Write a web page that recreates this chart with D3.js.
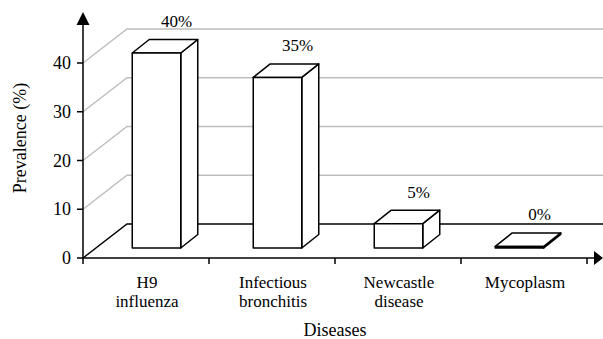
<!DOCTYPE html>
<html>
<head>
<meta charset="utf-8">
<script src="https://cdn.jsdelivr.net/npm/d3@7"></script>
</head>
<body style="margin:0">
<svg id="chart" width="603" height="339" style="display:block;background:#fff"></svg>
<script>
// Prevalence of poultry diseases
const categories = ["H9 influenza", "Infectious bronchitis", "Newcastle disease", "Mycoplasm"];
const categoryLines = [["H9", "influenza"], ["Infectious", "bronchitis"], ["Newcastle", "disease"], ["Mycoplasm"]];
const prevalence = [40, 35, 5, 0];
const yTicks = [0, 10, 20, 30, 40];

const svg = d3.select("#chart");
const W = 603;
const serif = "Liberation Serif";
const label = sel => sel.style("font-family", () => `"${serif}"`);

// front plane of the axes
const axisX0 = 83, axisX1 = 587, axisY0 = 258;
const x = d3.scaleBand().domain(categories).range([axisX0, axisX1]);
const y = d3.scaleLinear().domain([0, 40]).range([axisY0, 63]);

// oblique depth of the wall / floor
const wallDX = 44, wallDY = -34;

// bars sit inside the floor; front-face centres and 3D offsets
const xBar = d3.scalePoint().domain(categories).range([156.5, 519.5]);
const barW = 48.5, barFrontDY = -10, barDX = 17, barDY = -13.5;

// --- back wall gridlines and floor edge
const g = svg.append("g");
yTicks.forEach(t => {
  const y0 = y(t), y1 = y(t) + wallDY;
  g.append("path")
    .attr("d", `M${axisX0},${y0}L${axisX0 + wallDX},${y1}L${W},${y1}`)
    .attr("fill", "none")
    .attr("stroke", t === 0 ? "#000" : "#bdbdbd")
    .attr("stroke-width", 1.4);
});

// --- bars
prevalence.forEach((v, i) => {
  const c = categories[i];
  const xl = xBar(c) - barW / 2, xr = xBar(c) + barW / 2;
  const yb = y(0) + barFrontDY;
  let yt = y(v) + barFrontDY;
  if (yb - yt < 1.6) yt = yb - 1.6;
  const bg = svg.append("g").attr("fill", "#fff").attr("stroke", "#000")
    .attr("stroke-width", 1.5).attr("stroke-linejoin", "round");
  // side face
  bg.append("path").attr("d",
    `M${xr},${yt}L${xr + barDX},${yt + barDY}L${xr + barDX},${yb + barDY}L${xr},${yb}Z`);
  // top face
  bg.append("path").attr("d",
    `M${xl},${yt}L${xl + barDX},${yt + barDY}L${xr + barDX},${yt + barDY}L${xr},${yt}Z`);
  // front face
  bg.append("rect").attr("x", xl).attr("y", yt).attr("width", barW).attr("height", yb - yt);

  svg.append("text")
    .attr("x", xBar(c) + 20)
    .attr("y", yt + barDY - 12.5)
    .attr("text-anchor", "middle")
    .attr("font-size", 17)
    .call(label)
    .text(v + "%");
});

// --- y axis
const yAxis = svg.append("g");
yAxis.append("line").attr("x1", axisX0).attr("x2", axisX0)
  .attr("y1", axisY0).attr("y2", 22).attr("stroke", "#000").attr("stroke-width", 1.5);
yAxis.append("path").attr("d", `M${axisX0},12L${axisX0 - 6.5},25L${axisX0 + 6.5},25Z`).attr("fill", "#000");
yTicks.forEach(t => {
  yAxis.append("line").attr("x1", axisX0 - 6).attr("x2", axisX0)
    .attr("y1", y(t)).attr("y2", y(t)).attr("stroke", "#000").attr("stroke-width", 1.5);
  yAxis.append("text").attr("x", 71).attr("y", y(t)).attr("dy", "0.34em")
    .attr("text-anchor", "end").attr("font-size", 18).call(label).text(t);
});
svg.append("text")
  .attr("transform", "translate(26,138) rotate(-90)")
  .attr("text-anchor", "middle").attr("font-size", 18).call(label)
  .text("Prevalence (%)");

// --- x axis
const xAxis = svg.append("g");
xAxis.append("line").attr("x1", axisX0).attr("x2", 596)
  .attr("y1", axisY0).attr("y2", axisY0).attr("stroke", "#000").attr("stroke-width", 1.5);
xAxis.append("path").attr("d", `M603,${axisY0}L594,${axisY0 - 7}L594,${axisY0 + 7}Z`).attr("fill", "#000");
const tickXs = categories.map(c => x(c)).concat([axisX1]);
tickXs.forEach(tx => {
  xAxis.append("line").attr("x1", tx).attr("x2", tx)
    .attr("y1", axisY0).attr("y2", axisY0 + 6).attr("stroke", "#000").attr("stroke-width", 1.5);
});
categoryLines.forEach((lines, i) => {
  const cx = x(categories[i]) + x.bandwidth() / 2 + 1;
  lines.forEach((ln, k) => {
    xAxis.append("text")
      .attr("x", cx).attr("y", 288 + k * 19).attr("text-anchor", "middle")
      .attr("font-size", 17).call(label).text(ln);
  });
});
svg.append("text").attr("x", 335).attr("y", 336)
  .attr("text-anchor", "middle").attr("font-size", 18).call(label).text("Diseases");
</script>
</body>
</html>
